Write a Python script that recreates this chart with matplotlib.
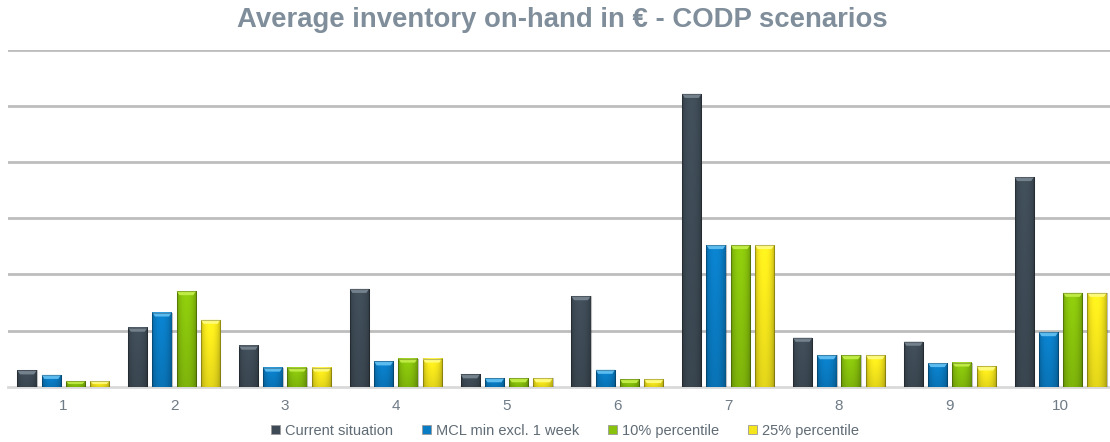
import numpy as np
import matplotlib
matplotlib.use("Agg")
import matplotlib.pyplot as plt
from matplotlib.patches import Rectangle, Polygon, Patch
from matplotlib.colors import to_rgb

# Inventory values per scenario (in gridline units)
categories = ["1", "2", "3", "4", "5", "6", "7", "8", "9", "10"]
series_names = ["Current situation", "MCL min excl. 1 week", "10% percentile", "25% percentile"]
current_situation = [0.29, 1.05, 0.73, 1.74, 0.22, 1.61, 5.21, 0.87, 0.80, 3.73]
mcl_min_excl_1_week = [0.21, 1.32, 0.34, 0.45, 0.15, 0.30, 2.52, 0.56, 0.42, 0.97]
percentile_10 = [0.10, 1.70, 0.34, 0.50, 0.15, 0.13, 2.52, 0.56, 0.43, 1.67]
percentile_25 = [0.10, 1.19, 0.34, 0.50, 0.15, 0.13, 2.52, 0.56, 0.36, 1.67]

series_values = [current_situation, mcl_min_excl_1_week, percentile_10, percentile_25]
base_colors = ["#3e4b56", "#0a7cc4", "#88c20c", "#f5e61c"]
cap_colors = ["#74828e", "#5cbcf0", "#bfeb45", "#fffb7a"]

fig = plt.figure(figsize=(11.10, 4.42), dpi=100)
ax = fig.add_axes([8 / 1110, 1 - 386.7 / 442, 1108 / 1110, 337.2 / 442])

x = np.arange(len(categories))
pitch = 0.219
width = 0.175
ymax = 6.0
px_y = ymax / 337.2  # data units per pixel (vertical)


def shaded_bar(ax, xc, h, color, cap):
    if h <= 0:
        return
    c = np.array(to_rgb(color))
    nx, ny = 40, 60
    u = np.linspace(-1, 1, nx)
    v = np.linspace(0, 1, ny)[:, None]  # 0 bottom -> 1 top
    horiz = 1.06 - 0.22 * np.abs(u) ** 2.5 - 0.05 * np.clip(u, 0, None)
    vert = 0.88 + 0.14 * v
    f = horiz[None, :] * vert
    img = np.clip(c[None, None, :] * f[:, :, None], 0, 1)
    x0, x1 = xc - width / 2, xc + width / 2
    ax.imshow(img, extent=(x0, x1, 0, h), origin="lower", aspect="auto",
              interpolation="bilinear", zorder=3)
    # bevelled top face
    ch = min(4 * px_y, h * 0.5)
    inset = width * 0.14
    ax.add_patch(Polygon([(x0, h), (x1, h), (x1 - inset, h - ch), (x0 + inset, h - ch)],
                         closed=True, facecolor=cap, edgecolor="none", zorder=4))
    ax.add_patch(Rectangle((x0, 0), width, h, facecolor="none",
                           edgecolor=(0, 0, 0, 0.25), linewidth=0.8, zorder=5))


for i, (vals, col, cap) in enumerate(zip(series_values, base_colors, cap_colors)):
    offs = (i - 1.5) * pitch
    for xi, val in zip(x, vals):
        shaded_bar(ax, xi + offs, val, col, cap)

ax.set_xlim(-0.5, len(categories) - 0.5)
ax.set_ylim(0, ymax)
ax.set_yticks(np.arange(1, 7))
ax.set_yticklabels([])
ax.tick_params(axis="y", length=0)
ax.grid(axis="y", color="#bdbdbd", linewidth=2.0, zorder=0)
ax.set_axisbelow(True)
for s in ["top", "right", "left"]:
    ax.spines[s].set_visible(False)
ax.spines["bottom"].set_color("#d9d9d9")
ax.spines["bottom"].set_linewidth(2.0)
ax.set_xticks(x)
ax.set_xticklabels(categories, fontsize=11, color="#6f7b86", family="Liberation Sans")
ax.tick_params(axis="x", length=0, pad=9)

fig.text(562 / 1110, 1 - 20 / 442, "Average inventory on-hand in \u20ac - CODP scenarios",
         ha="center", va="center", fontsize=19.8, fontweight="bold",
         color="#7f8e9a", family="Liberation Sans")

handles = [Patch(facecolor=c, edgecolor="#9a9a9a", linewidth=0.6) for c in base_colors]
fig.legend(handles, series_names, loc="center", bbox_to_anchor=(565 / 1110, 1 - 431 / 442),
           ncol=4, frameon=False, handlelength=0.6, handleheight=0.6,
           handletextpad=0.35, columnspacing=2.0,
           prop={"family": "Liberation Sans", "size": 10.5}, labelcolor="#5f6b75")

fig.savefig("out.png", dpi=100)
